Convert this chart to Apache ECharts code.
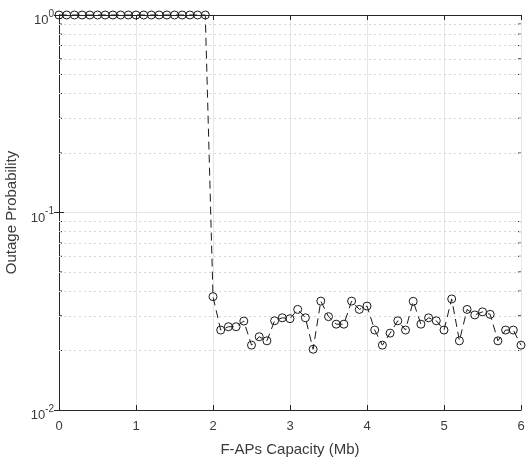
<!DOCTYPE html>
<html>
<head>
<meta charset="utf-8">
<title>Outage Probability vs F-APs Capacity</title>
<script src="https://cdn.jsdelivr.net/npm/echarts@6/dist/echarts.min.js"></script>
<style>
  html, body { margin: 0; padding: 0; background: #fff; }
  #chart { width: 526px; height: 459px; }
</style>
</head>
<body>
<div id="chart"></div>
<script>
// F-APs capacity (Mb), one sample every 0.1
const capacity = [
  0.0, 0.1, 0.2, 0.3, 0.4, 0.5, 0.6, 0.7, 0.8, 0.9,
  1.0, 1.1, 1.2, 1.3, 1.4, 1.5, 1.6, 1.7, 1.8, 1.9,
  2.0, 2.1, 2.2, 2.3, 2.4, 2.5, 2.6, 2.7, 2.8, 2.9,
  3.0, 3.1, 3.2, 3.3, 3.4, 3.5, 3.6, 3.7, 3.8, 3.9,
  4.0, 4.1, 4.2, 4.3, 4.4, 4.5, 4.6, 4.7, 4.8, 4.9,
  5.0, 5.1, 5.2, 5.3, 5.4, 5.5, 5.6, 5.7, 5.8, 5.9,
  6.0
]

// outage probability
const outage = [
  1, 1, 1, 1, 1, 1, 1, 1, 1, 1,
  1, 1, 1, 1, 1, 1, 1, 1, 1, 1,
  0.0375, 0.0254, 0.0264, 0.0264, 0.0282, 0.0213, 0.0235, 0.0224, 0.0283, 0.0293,
  0.0290, 0.0323, 0.0293, 0.0203, 0.0356, 0.0297, 0.0272, 0.0272, 0.0356, 0.0323,
  0.0336, 0.0254, 0.0213, 0.0245, 0.0283, 0.0254, 0.0355, 0.0272, 0.0293, 0.0283,
  0.0254, 0.0365, 0.0224, 0.0323, 0.0303, 0.0314, 0.0305, 0.0224, 0.0254, 0.0254,
  0.0213
]

// log-axis minor positions (dotted grid + small ticks)
const minorTicks = [
  0.02, 0.03, 0.04, 0.05, 0.06, 0.07, 0.08, 0.09,
  0.2, 0.3, 0.4, 0.5, 0.6, 0.7, 0.8, 0.9
]

const xMin = 0
const xMax = 6
const yMin = 0.01
const yMax = 1

const FONT = '"Liberation Sans", Arial, Helvetica, sans-serif'
const TEXT = '#3a3a3a'
const AXIS = '#262626'

const chart = echarts.init(document.getElementById('chart'))

const yLabel = {
  color: TEXT,
  fontFamily: FONT,
  margin: 5,
  formatter: v => '{b|10}{s|' + Math.round(Math.log10(v)) + '}',
  rich: {
    b: { fontSize: 13, fontFamily: FONT, color: TEXT, padding: [11, 0, 0, 0] },
    s: { fontSize: 10, fontFamily: FONT, color: TEXT, padding: [0, 0, 2, 0] }
  }
}

const option = {
  backgroundColor: '#fff',
  animation: false,
  grid: { left: 59, right: 5, top: 15, bottom: 49, containLabel: false, outerBoundsMode: 'none' },
  xAxis: [
    {
      type: 'value',
      min: xMin,
      max: xMax,
      interval: 1,
      name: 'F-APs Capacity (Mb)',
      nameLocation: 'middle',
      nameGap: 32,
      nameTextStyle: { color: TEXT, fontSize: 15, fontFamily: FONT },
      axisLine: { lineStyle: { color: AXIS, width: 1 } },
      axisTick: { inside: true, length: 5, lineStyle: { color: AXIS } },
      axisLabel: { color: TEXT, fontSize: 13, fontFamily: FONT, margin: 10 },
      splitLine: { show: true, lineStyle: { color: '#e5e5e5', width: 1 } }
    },
    {
      type: 'value',
      position: 'top',
      min: xMin,
      max: xMax,
      interval: 1,
      axisLine: { show: true, lineStyle: { color: AXIS, width: 1 } },
      axisTick: { inside: true, length: 5, lineStyle: { color: AXIS } },
      axisLabel: { show: false },
      splitLine: { show: false }
    }
  ],
  yAxis: [
    {
      type: 'log',
      logBase: 10,
      min: yMin,
      max: yMax,
      name: 'Outage Probability',
      nameLocation: 'middle',
      nameGap: 35,
      nameTextStyle: { color: TEXT, fontSize: 15, fontFamily: FONT },
      axisLine: { show: true, lineStyle: { color: AXIS, width: 1 } },
      axisTick: { inside: true, length: 5, lineStyle: { color: AXIS } },
      axisLabel: yLabel,
      splitLine: { show: true, lineStyle: { color: '#e5e5e5', width: 1 } }
    },
    {
      type: 'log',
      logBase: 10,
      min: yMin,
      max: yMax,
      position: 'right',
      axisLine: { show: true, lineStyle: { color: AXIS, width: 1 } },
      axisTick: { inside: true, length: 5, lineStyle: { color: AXIS } },
      axisLabel: { show: false },
      splitLine: { show: false }
    }
  ],
  series: [
    {
      // dotted minor grid on the log axis
      type: 'line',
      data: [],
      silent: true,
      z: 1,
      markLine: {
        silent: true,
        symbol: ['none', 'none'],
        label: { show: false },
        lineStyle: { color: '#d6d6d6', type: [2, 3], width: 1 },
        data: minorTicks.map(v => ({ yAxis: v }))
      }
    },
    {
      // minor ticks on left and right edges
      type: 'custom',
      silent: true,
      z: 3,
      data: minorTicks.map(v => [xMin, v]),
      renderItem: (params, api) => {
        const l = api.coord([xMin, api.value(1)])
        const r = api.coord([xMax, api.value(1)])
        const style = { stroke: AXIS, lineWidth: 1 }
        return {
          type: 'group',
          children: [
            { type: 'line', shape: { x1: l[0], y1: l[1], x2: l[0] + 3, y2: l[1] }, style },
            { type: 'line', shape: { x1: r[0], y1: r[1], x2: r[0] - 3, y2: r[1] }, style }
          ]
        }
      }
    },
    {
      name: 'Outage',
      type: 'line',
      z: 5,
      data: capacity.map((c, i) => [c, outage[i]]),
      symbol: 'circle',
      symbolSize: 8,
      showAllSymbol: true,
      clip: false,
      lineStyle: { color: '#1a1a1a', width: 1, type: [8, 5] },
      itemStyle: { color: 'rgba(255,255,255,0)', borderColor: '#1a1a1a', borderWidth: 1 }
    }
  ]
}

chart.setOption(option)
</script>
</body>
</html>
